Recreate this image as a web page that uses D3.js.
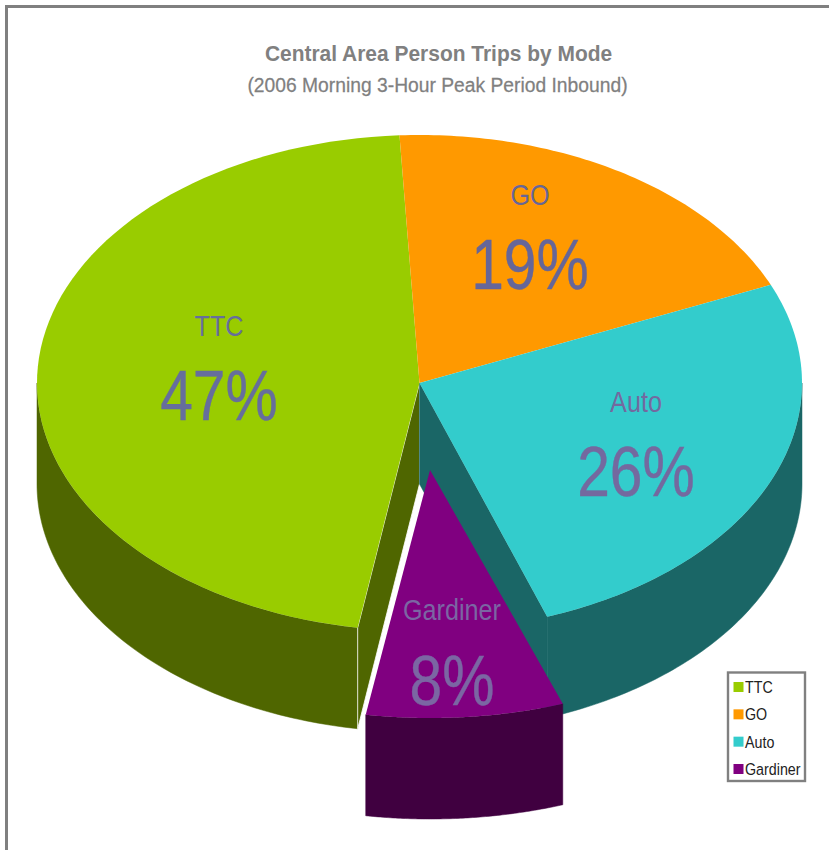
<!DOCTYPE html>
<html>
<head>
<meta charset="utf-8">
<title>Central Area Person Trips by Mode</title>
<script src="https://cdn.jsdelivr.net/npm/d3@7"></script>
<style>
  html, body { margin: 0; padding: 0; background: #fff; }
  svg { display: block; }
  text { font-family: "Liberation Sans", Arial, sans-serif; }
</style>
</head>
<body>
<svg id="chart" width="829" height="850"></svg>
<script>
// Share of inbound person trips, percent
const modes = ["TTC", "GO", "Auto", "Gardiner"];
const shares = [47, 19, 26, 8];
const topColors = ["#99cc00", "#ff9900", "#33cccc", "#800080"];
const wallColors = ["#4f6600", "#804d00", "#1a6666", "#400040"];
const labelColors = ["#666e9c", "#666699", "#74699f", "#7b66a3"];
const titleText = "Central Area Person Trips by Mode";
const subtitleText = "(2006 Morning 3-Hour Peak Period Inbound)";

// Tilted-disc geometry
const cx = 419.5, cy = 383, rx = 382.5, ry = 248, depth = 101;
const degree = Math.PI / 180;
const startAngle = -1.5 * degree;
const tiltWarp = 1.5 * degree;             // foreshortening of angles on the far side of the disc
const pulledOut = { Gardiner: { dx: 10.5, dy: 87, widen: 1.04 } };
const labelSqueeze = 0.84;

// Where each slice's two text lines sit
const labelSpots = {
  TTC:      { x: 219, nameY: 336, pctY: 420 },
  GO:       { x: 530, nameY: 205, pctY: 289 },
  Auto:     { x: 636, nameY: 412, pctY: 496 },
  Gardiner: { x: 452, nameY: 620, pctY: 705 }
};

const svg = d3.select("#chart");

// Frame along the top and left of the page
svg.append("path")
  .attr("d", "M6.5,850V6.5H829")
  .attr("fill", "none")
  .attr("stroke", "#808080")
  .attr("stroke-width", 3);

// Pie angles run clockwise from twelve o'clock, starting with GO
const order = [1, 2, 3, 0];
const pie = d3.pie()
  .sort((a, b) => order.indexOf(a) - order.indexOf(b))
  .value(i => shares[i])
  .startAngle(startAngle)
  .endAngle(startAngle + 2 * Math.PI);
const slices = pie(d3.range(modes.length)).map(d => ({
  name: modes[d.data],
  index: d.data,
  a0: d.startAngle,
  a1: d.endAngle,
  pull: pulledOut[modes[d.data]] || null
}));

const sx = d3.scaleLinear().domain([-1, 1]).range([-rx, rx]);
const sy = d3.scaleLinear().domain([-1, 1]).range([-ry, ry]);
const hub = (s, drop = 0) => s.pull
  ? [cx + s.pull.dx, cy + s.pull.dy + drop]
  : [cx, cy + drop];
const rim = (s, a, drop = 0) => {
  const [hx, hy] = hub(s, drop);
  if (s.pull) return [hx + sx(Math.sin(a)) * s.pull.widen, hy + sy(-Math.cos(a))];
  const far = Math.max(0, Math.cos(a));
  const t = a - far * far * tiltWarp;
  return [hx + sx(Math.sin(t)), hy + sy(-Math.cos(t))];
};
const closed = d3.line().curve(d3.curveLinearClosed);
const arcPoints = (s, a0, a1, drop = 0) =>
  d3.range(0, 81).map(k => rim(s, a0 + (a1 - a0) * k / 80, drop));

// Curved outer wall, only for the part of a slice facing the viewer
function outerWall(s) {
  const a0 = Math.max(s.a0, Math.PI / 2);
  const a1 = Math.min(s.a1, 3 * Math.PI / 2);
  if (a1 <= a0) return null;
  return closed(arcPoints(s, a0, a1).concat(arcPoints(s, a1, a0, depth)));
}
// Flat wall along the slice's radial cut
function cutWall(s, a) {
  return closed([hub(s), rim(s, a), rim(s, a, depth), hub(s, depth)]);
}
function topFace(s) {
  return closed([hub(s)].concat(arcPoints(s, s.a0, s.a1)));
}

const byName = Object.fromEntries(slices.map(s => [s.name, s]));
const disc = svg.append("g");

function wall(s, d, stroke) {
  if (!d) return;
  disc.append("path").attr("d", d).attr("fill", wallColors[s.index])
    .attr("stroke", stroke || wallColors[s.index]).attr("stroke-width", stroke ? 0.8 : 0.5);
}

// Walls first, then top faces; the pulled-out slice goes last
wall(byName.TTC, outerWall(byName.TTC));
wall(byName.TTC, cutWall(byName.TTC, byName.TTC.a0), "#ffffff");
wall(byName.Auto, outerWall(byName.Auto));
wall(byName.Auto, cutWall(byName.Auto, byName.Auto.a1));
["TTC", "GO", "Auto"].forEach(n => {
  const s = byName[n];
  disc.append("path").attr("d", topFace(s)).attr("fill", topColors[s.index]);
});
const g = byName.Gardiner;
wall(g, outerWall(g));
disc.append("path").attr("d", topFace(g)).attr("fill", topColors[g.index]);

// Text with its own horizontal scale, anchored around its position
function scaledText(parent, str, x, y, size, fill, opts = {}) {
  const t = parent.append("text")
    .attr("transform", `translate(${x},${y}) scale(${opts.squeeze ?? labelSqueeze},1)`)
    .attr("text-anchor", opts.anchor || "middle")
    .attr("font-size", size)
    .attr("font-weight", opts.weight || "normal")
    .attr("fill", fill)
    .text(str);
  if (opts.heft) t.attr("stroke", fill).attr("stroke-width", opts.heft);
  return t;
}

scaledText(svg, titleText, 438.5, 61, 22, "#808080", { squeeze: 0.953, weight: "bold" });
scaledText(svg, subtitleText, 437.5, 92, 21, "#808080", { squeeze: 0.918, heft: 0.25 });

slices.forEach(s => {
  const p = labelSpots[s.name];
  scaledText(svg, s.name, p.x, p.nameY, 30, labelColors[s.index]);
  scaledText(svg, shares[s.index] + "%", p.x, p.pctY, 70, labelColors[s.index], { heft: 0.4 });
});

// Legend
const legendRowY = d3.scalePoint().domain(modes).range([687, 769]);
const legend = svg.append("g");
legend.append("rect")
  .attr("x", 728).attr("y", 672.5).attr("width", 77).attr("height", 108.5)
  .attr("fill", "#fff").attr("stroke", "#808080").attr("stroke-width", 2.4);
modes.forEach((m, i) => {
  const y = legendRowY(m);
  legend.append("rect")
    .attr("x", 733.5).attr("y", y - 5).attr("width", 10).attr("height", 10)
    .attr("fill", topColors[i]);
  scaledText(legend, m, 745, y + 6, 17, "#222222", { anchor: "start" });
});
</script>
</body>
</html>
